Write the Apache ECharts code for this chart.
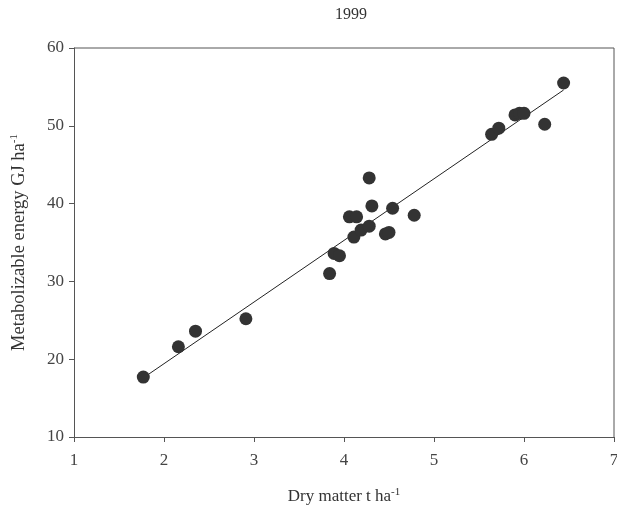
<!DOCTYPE html>
<html>
<head>
<meta charset="utf-8">
<script src="https://cdn.jsdelivr.net/npm/echarts@6/dist/echarts.min.js"></script>
<style>
  html, body { margin: 0; padding: 0; background: #fff; }
  #chart { width: 617px; height: 509px; }
</style>
</head>
<body>
<div id="chart"></div>
<script>
// dry matter (t/ha) and metabolizable energy (GJ/ha)
var dryMatter = [1.77, 2.16, 2.35, 2.91, 3.84, 3.89, 3.95, 4.06, 4.14, 4.11, 4.19, 4.28, 4.28, 4.31,
  4.46, 4.50, 4.54, 4.78, 5.64, 5.72, 5.90, 5.95, 6.00, 6.23, 6.44]
var energy = [17.7, 21.6, 23.6, 25.2, 31.0, 33.6, 33.3, 38.3, 38.3, 35.7, 36.6, 37.1, 43.3, 39.7,
  36.1, 36.3, 39.4, 38.5, 48.9, 49.7, 51.4, 51.6, 51.6, 50.2, 55.5]
// regression line ends
var fitX = [1.77, 6.44]
var fitY = [17.6, 54.6]
var xTicks = [1, 2, 3, 4, 5, 6, 7]
var yTicks = [10, 20, 30, 40, 50, 60]

var points = dryMatter.map(function (x, i) { return [x, energy[i]] })
var fit = fitX.map(function (x, i) { return [x, fitY[i]] })

var font = '"Liberation Serif", "Times New Roman", serif'
var chart = echarts.init(document.getElementById('chart'))
chart.setOption({
  animation: false,
  title: {
    text: '1999',
    left: 346,
    top: 2,
    textAlign: 'center',
    textStyle: { fontFamily: font, fontSize: 16, fontWeight: 'normal', color: '#333' }
  },
  grid: { left: 74, right: 3, top: 48, bottom: 72, containLabel: false, outerBoundsMode: 'none' },
  xAxis: {
    type: 'value',
    min: xTicks[0],
    max: xTicks[xTicks.length - 1],
    interval: 1,
    name: '{a|Dry matter t ha}{s|-1}',
    nameLocation: 'middle',
    nameGap: 50,
    nameTextStyle: {
      rich: {
        a: { fontFamily: font, fontSize: 17, color: '#333' },
        s: { fontFamily: font, fontSize: 11, color: '#333', verticalAlign: 'top', padding: [0, 0, 8, 0] }
      }
    },
    axisLine: { lineStyle: { color: '#555', width: 1 } },
    axisTick: { show: true, length: 5, inside: false, lineStyle: { color: '#555' } },
    axisLabel: { fontFamily: font, fontSize: 17, color: '#444', margin: 15 },
    splitLine: { show: false }
  },
  yAxis: {
    type: 'value',
    min: yTicks[0],
    max: yTicks[yTicks.length - 1],
    interval: 10,
    name: '{a|Metabolizable energy GJ ha}{s|-1}',
    nameLocation: 'middle',
    nameGap: 45,
    nameTextStyle: {
      rich: {
        a: { fontFamily: font, fontSize: 18.5, color: '#333' },
        s: { fontFamily: font, fontSize: 11, color: '#333', verticalAlign: 'top', padding: [0, 0, 9, 0] }
      }
    },
    axisLine: { lineStyle: { color: '#555', width: 1 } },
    axisTick: { show: true, length: 5, inside: false, lineStyle: { color: '#555' } },
    axisLabel: { fontFamily: font, fontSize: 17, color: '#444', margin: 10 },
    splitLine: { show: false }
  },
  series: [{
    type: 'line',
    data: fit,
    symbol: 'none',
    lineStyle: { color: '#222', width: 1 },
    silent: true,
    z: 1
  }, {
    type: 'scatter',
    data: points,
    symbol: 'circle',
    symbolSize: 13,
    itemStyle: { color: '#333', opacity: 1 },
    z: 2
  }],
  graphic: [{
    // top and right frame lines of the plot box
    type: 'polyline',
    shape: { points: [[74, 48], [614, 48], [614, 437]] },
    style: { stroke: '#555', lineWidth: 1, fill: null },
    silent: true
  }]
})
</script>
</body>
</html>
